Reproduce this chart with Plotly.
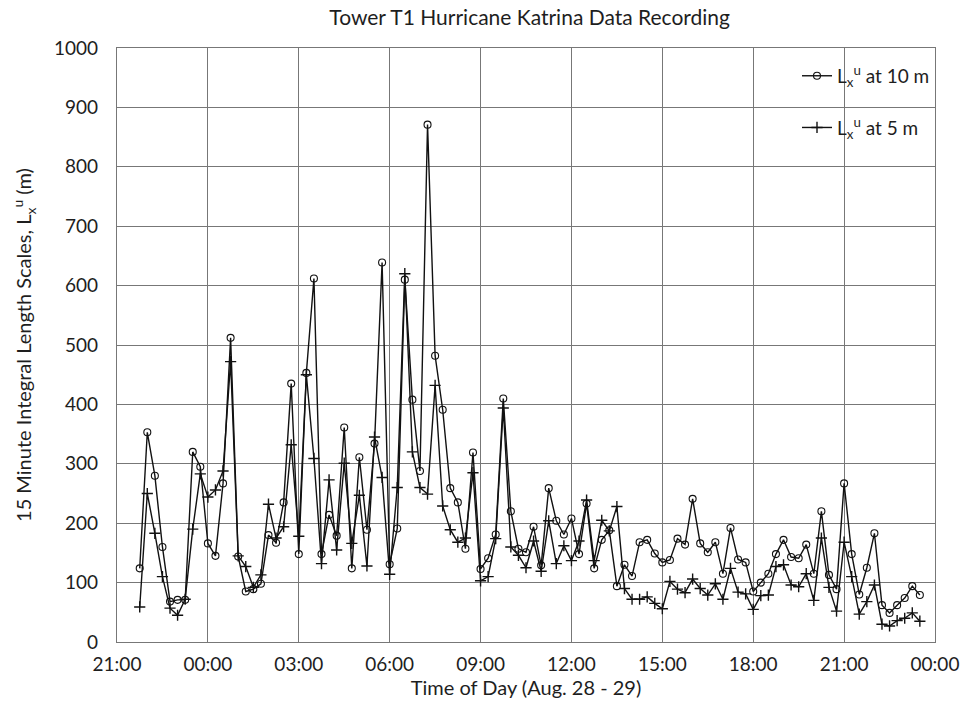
import pandas as pd
import plotly.graph_objects as go

# 15-minute records, first record at 21:45 on Aug. 28
start_time = "2005-08-28 21:45"
interval = "15min"

l_10m = [124, 353, 280, 160, 68, 71, 71, 320, 295, 166,
         145, 267, 512, 144, 85, 89, 98, 180, 167, 235,
         435, 148, 453, 612, 148, 214, 179, 361, 124, 311,
         189, 334, 639, 131, 191, 610, 408, 288, 871, 482,
         391, 259, 235, 157, 319, 123, 141, 181, 410, 220,
         157, 151, 194, 129, 259, 204, 181, 208, 148, 233,
         124, 172, 188, 94, 130, 111, 168, 172, 149, 134,
         138, 174, 164, 241, 166, 151, 168, 115, 192, 139,
         134, 85, 100, 115, 148, 172, 143, 141, 164, 115,
         220, 113, 89, 267, 148, 80, 125, 183, 62, 49,
         62, 74, 94, 79]

l_5m = [59, 250, 183, 110, 57, 45, 72, 190, 283, 244,
        256, 288, 472, 145, 127, 92, 113, 232, 175, 194,
        332, 178, 450, 309, 132, 273, 155, 301, 166, 247,
        128, 345, 277, 114, 260, 620, 320, 260, 249, 432,
        229, 189, 168, 175, 285, 103, 110, 174, 394, 160,
        146, 125, 170, 119, 204, 132, 162, 137, 170, 239,
        137, 205, 187, 228, 90, 72, 72, 76, 65, 56,
        102, 89, 83, 106, 90, 79, 98, 72, 124, 84,
        81, 55, 78, 79, 127, 130, 96, 93, 115, 70,
        175, 92, 52, 168, 110, 47, 68, 96, 30, 27,
        36, 40, 49, 35]

times = pd.date_range(start=start_time, periods=len(l_10m), freq=interval)

x_range = ["2005-08-28 21:00", "2005-08-30 00:00"]
tick_vals = pd.date_range(x_range[0], x_range[1], freq="3h")
tick_text = [t.strftime("%H:%M") for t in tick_vals]

FONT = "Lato"
TXT = "#1e1e1e"
GRID = "#777777"
LINE = "#111111"

fig = go.Figure()
fig.add_trace(go.Scatter(
    x=times, y=l_10m, mode="lines+markers",
    name="L<sub>x</sub><sup>u</sup> at 10 m", legendgroup="a",
    line=dict(color=LINE, width=1.4),
    marker=dict(symbol="circle-open", size=7, color=LINE, line=dict(width=1.1)),
))
fig.add_trace(go.Scatter(
    x=times, y=l_5m, mode="lines+markers",
    name="L<sub>x</sub><sup>u</sup> at 5 m", legendgroup="b",
    line=dict(color=LINE, width=1.4),
    marker=dict(symbol="cross-thin-open", size=8, color=LINE, line=dict(width=1.4, color=LINE)),
))

fig.update_layout(
    width=971, height=712,
    margin=dict(l=117, r=28, t=48, b=70),
    paper_bgcolor="white", plot_bgcolor="white",
    font=dict(family=FONT, size=19, color=TXT),
    title=dict(text="Tower T1 Hurricane Katrina Data Recording",
               x=0.5455, xanchor="center", y=0.975, yanchor="middle",
               font=dict(size=21, color=TXT)),
    showlegend=True,
    legend=dict(x=1, xanchor="right", y=0.985, yanchor="top",
                bgcolor="rgba(0,0,0,0)", tracegroupgap=24,
                font=dict(size=19, color=TXT)),
)
fig.update_xaxes(
    range=x_range, tickvals=tick_vals, ticktext=tick_text,
    showgrid=True, gridcolor=GRID, gridwidth=1.3,
    showline=True, linecolor=GRID, linewidth=1.3, mirror=True,
    ticks="outside", ticklen=5, tickcolor="rgba(0,0,0,0)",
    tickfont=dict(size=19), zeroline=False,
    title=dict(text="Time of Day (Aug. 28 - 29)", font=dict(size=20), standoff=6),
)
fig.update_yaxes(
    range=[0, 1000], dtick=100,
    showgrid=True, gridcolor=GRID, gridwidth=1.3,
    showline=True, linecolor=GRID, linewidth=1.3, mirror=True,
    ticks="outside", ticklen=14, tickcolor="rgba(0,0,0,0)",
    tickfont=dict(size=19), zeroline=False,
    title=dict(text="15 Minute Integral Length Scales, L<sub>x</sub><sup>u</sup> (m)",
               font=dict(size=20), standoff=16),
)

fig.write_html("out.html")
